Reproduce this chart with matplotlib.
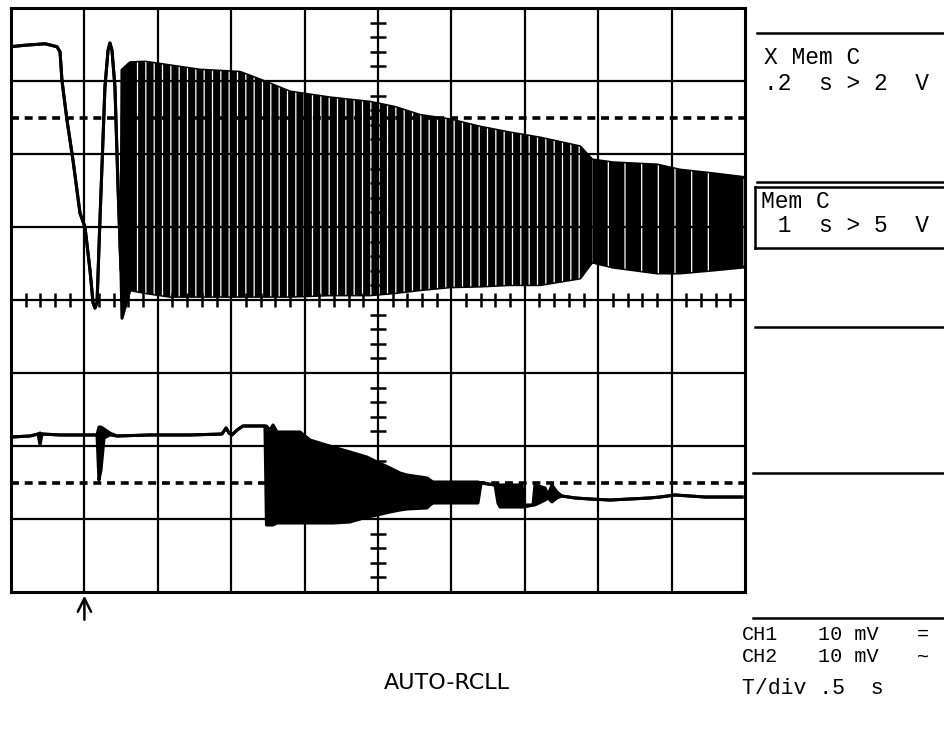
import matplotlib
matplotlib.use("Agg")
import matplotlib.pyplot as plt
from matplotlib.lines import Line2D
from matplotlib.collections import LineCollection

# ---------------- data (time in s, level in screen divisions) ----------------
# CH1 (upper trace): where hi == lo the trace is a single line, otherwise a dense band
ch1_t = [0.000, 0.095, 0.232, 0.313, 0.334, 0.347, 0.381, 0.422, 0.470, 0.504, 0.538,
         0.559, 0.572, 0.586, 0.606, 0.640, 0.661, 0.674, 0.688, 0.708, 0.729, 0.749,
         0.756, 0.811, 0.913, 1.083, 1.287, 1.560, 1.730, 1.901, 2.173, 2.446, 2.616,
         2.786, 2.990, 3.195, 3.399, 3.604, 3.876, 3.958, 4.101, 4.401, 4.557, 4.782, 4.986]
ch1_hi = [7.47, 7.49, 7.51, 7.47, 7.40, 7.01, 6.47, 5.92, 5.19, 5.00, 4.41,
          3.96, 3.89, 3.96, 5.10, 6.92, 7.42, 7.52, 7.42, 6.92, 5.55, 4.41,
          7.15, 7.25, 7.26, 7.21, 7.15, 7.12, 6.99, 6.85, 6.77, 6.71, 6.64,
          6.53, 6.47, 6.37, 6.29, 6.22, 6.10, 5.92, 5.88, 5.85, 5.78, 5.73, 5.68]
ch1_lo = [7.47, 7.49, 7.51, 7.47, 7.40, 7.01, 6.47, 5.92, 5.19, 5.00, 4.41,
          3.96, 3.89, 3.96, 5.10, 6.92, 7.42, 7.52, 7.42, 6.92, 5.55, 4.41,
          3.75, 4.14, 4.10, 4.05, 4.05, 4.05, 4.05, 4.05, 4.07, 4.07, 4.10,
          4.14, 4.18, 4.19, 4.21, 4.21, 4.30, 4.52, 4.45, 4.37, 4.37, 4.41, 4.45]

# CH2 (lower trace)
ch2_t = [0.000, 0.129, 0.184, 0.198, 0.211, 0.334, 0.470, 0.586, 0.599, 0.613, 0.634,
         0.674, 0.722, 0.947, 1.219, 1.437, 1.465, 1.485, 1.505, 1.540, 1.580, 1.710,
         1.730, 1.740, 1.764, 1.785, 1.812, 1.969, 2.037, 2.193, 2.309, 2.425, 2.466,
         2.582, 2.650, 2.698, 2.834, 2.854, 2.875, 3.181, 3.202, 3.297, 3.317, 3.331,
         3.481, 3.495, 3.556, 3.569, 3.638, 3.658, 3.685, 3.719, 3.753, 3.842, 3.944,
         4.080, 4.217, 4.353, 4.421, 4.523, 4.625, 4.728, 4.980]
ch2_hi = [2.123, 2.137, 2.164, 2.178, 2.164, 2.151, 2.151, 2.151, 2.260, 2.260, 2.233,
          2.178, 2.137, 2.151, 2.151, 2.164, 2.247, 2.178, 2.151, 2.219, 2.274, 2.274,
          2.274, 2.274, 2.219, 2.288, 2.192, 2.192, 2.082, 1.986, 1.918, 1.849, 1.808,
          1.699, 1.630, 1.603, 1.562, 1.534, 1.507, 1.507, 1.493, 1.466, 1.466, 1.466,
          1.466, 1.192, 1.192, 1.466, 1.425, 1.329, 1.466, 1.370, 1.315, 1.288, 1.274,
          1.260, 1.274, 1.288, 1.301, 1.329, 1.315, 1.301, 1.301]
ch2_lo = [2.123, 2.137, 2.164, 2.014, 2.164, 2.151, 2.151, 2.151, 1.534, 1.671, 2.110,
          2.151, 2.137, 2.151, 2.151, 2.164, 2.247, 2.178, 2.151, 2.219, 2.274, 2.274,
          2.274, 0.918, 0.918, 0.918, 0.945, 0.945, 0.945, 0.945, 0.959, 1.027, 1.041,
          1.096, 1.123, 1.137, 1.151, 1.192, 1.219, 1.219, 1.493, 1.466, 1.219, 1.164,
          1.164, 1.164, 1.192, 1.192, 1.260, 1.288, 1.233, 1.288, 1.315, 1.288, 1.274,
          1.260, 1.274, 1.288, 1.301, 1.329, 1.315, 1.301, 1.301]

ref_levels = [6.5, 1.5]       # dashed reference lines (divisions)
trigger_t = 0.5               # trigger arrow position (s)

# ---------------- figure ----------------
W, H = 944, 740
fig = plt.figure(figsize=(W / 100, H / 100), dpi=100)
fig.patch.set_facecolor("white")
plt.rcParams["hatch.linewidth"] = 0.9

ax = fig.add_axes([11 / W, 1 - 592 / H, 734 / W, 584 / H])
ax.set_xlim(0, 5)
ax.set_ylim(0, 8)
ax.set_xticks([])
ax.set_yticks([])
for s in ax.spines.values():
    s.set_linewidth(2.2)
    s.set_zorder(10)

# grid
for i in range(1, 10):
    ax.axvline(i * 0.5, color="black", lw=1.6, zorder=6)
for j in range(1, 8):
    ax.axhline(j, color="black", lw=1.6, zorder=6)

# centre-line subdivision ticks
segs = []
for k in range(1, 40):
    if k % 5:
        y = k * 0.2
        segs.append([(2.5 - 0.055, y), (2.5 + 0.055, y)])
for k in range(1, 50):
    if k % 5:
        x = k * 0.1
        segs.append([(x, 4 - 0.1), (x, 4 + 0.1)])
ax.add_collection(LineCollection(segs, colors="black", linewidths=1.8, zorder=6))

# dashed reference lines
for lv in ref_levels:
    ax.axhline(lv, color="black", lw=2.6, ls=(0, (2.2, 1.6)), zorder=7)

# traces
for t, hi, lo in ((ch1_t, ch1_hi, ch1_lo), (ch2_t, ch2_hi, ch2_lo)):
    ax.fill_between(t, lo, hi, color="black", lw=0, zorder=3)
    ax.plot(t, hi, color="black", lw=2.2, zorder=4, solid_joinstyle="round")
    ax.plot(t, lo, color="black", lw=2.2, zorder=4, solid_joinstyle="round")

# white slits inside the dense CH1 oscillation band
mask_a = [0.80 <= v <= 3.90 for v in ch1_t]
ax.fill_between(ch1_t, ch1_lo, ch1_hi, where=mask_a, facecolor="none",
                edgecolor="white", hatch="||", lw=0, zorder=5)
mask_b = [3.95 <= v <= 4.80 for v in ch1_t]
ax.fill_between(ch1_t, ch1_lo, ch1_hi, where=mask_b, facecolor="none",
                edgecolor="white", hatch="|", lw=0, zorder=5)

# trigger arrow below the screen
ax.annotate("", xy=(trigger_t, -0.05), xytext=(trigger_t, -0.38),
            xycoords="data", textcoords="data", annotation_clip=False,
            arrowprops=dict(arrowstyle="->", lw=1.8, color="black",
                            mutation_scale=24, shrinkA=0, shrinkB=0))

# ---------------- right-hand panel ----------------
def hline(y, x0, x1=W, lw=1.8):
    fig.add_artist(Line2D([x0 / W, x1 / W], [1 - y / H, 1 - y / H],
                          transform=fig.transFigure, color="black", lw=lw))

def vline(x, y0, y1, lw=1.8):
    fig.add_artist(Line2D([x / W, x / W], [1 - y0 / H, 1 - y1 / H],
                          transform=fig.transFigure, color="black", lw=lw))

hline(33, 757)
hline(182, 757)
hline(187, 755)
hline(248, 755)
vline(755, 187, 248)
hline(327, 755)
hline(473, 753)
hline(618, 753)

MONO = ["Liberation Mono", "DejaVu Sans Mono"]

def txt(x, y, s, size=16.5, fam=MONO, ha="left"):
    fig.text(x / W, 1 - y / H, s, ha=ha, va="center", family=fam, size=size,
             color="black")

txt(764, 58, "X Mem C")
txt(764, 83, ".2  s > 2  V")
txt(761, 202, "Mem C")
txt(764, 225, " 1  s > 5  V")
txt(742, 634, "CH1", size=14.5)
txt(818, 634, "10 mV", size=14.5)
txt(917, 634, "=", size=14.5)
txt(742, 657, "CH2", size=14.5)
txt(818, 657, "10 mV", size=14.5)
txt(917, 657, "~", size=14.5)
txt(742, 688, "T/div .5  s", size=15.5)
txt(447, 683, "AUTO-RCLL", size=16, fam=["DejaVu Sans"], ha="center")

fig.savefig("out.png", dpi=100, facecolor="white")
